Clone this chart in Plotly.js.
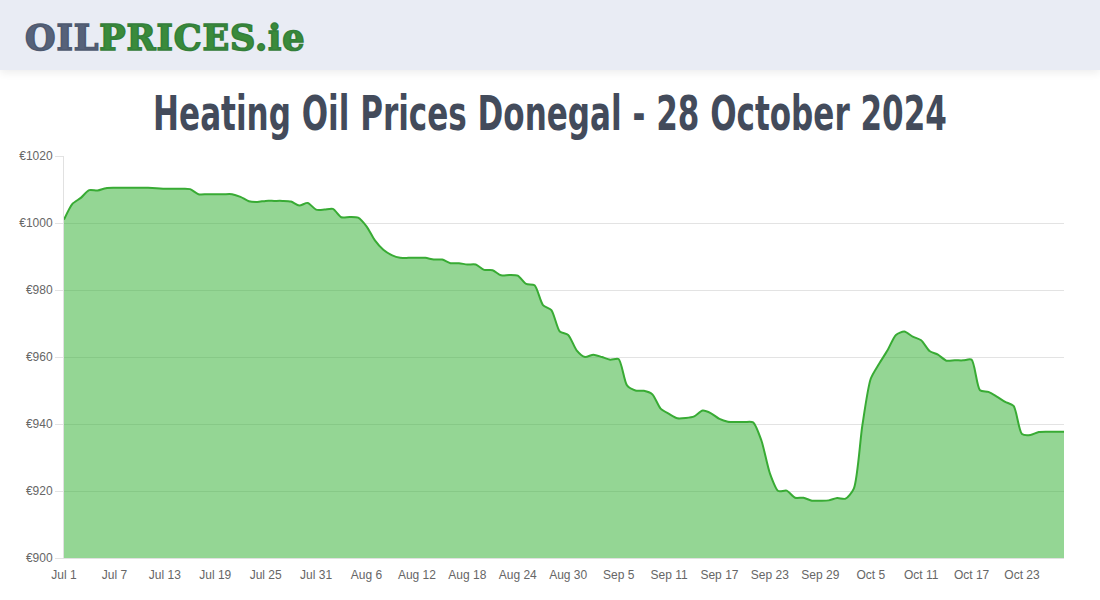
<!DOCTYPE html>
<html>
<head>
<meta charset="utf-8">
<script src="https://cdn.plot.ly/plotly-3.0.1.min.js"></script>
<style>
  html, body { margin: 0; padding: 0; background: #ffffff; }
  #wrap { position: relative; width: 1100px; height: 600px; overflow: hidden; }
  #header {
    position: absolute; left: 0; top: 0; width: 1100px; height: 70px;
    background: #e9ecf4; z-index: 5;
    box-shadow: 0 3px 8px rgba(0,0,0,0.07);
  }
  #logo {
    position: absolute; left: 25px; top: 16px;
    font-family: "DejaVu Serif", serif; font-weight: bold;
    font-size: 35px; letter-spacing: 0.9px; line-height: 44px;
  }
  #logo .a { color: #56627a; -webkit-text-stroke: 1.6px #4f5a70; }
  #logo .b { color: #3a8b3b; -webkit-text-stroke: 1.6px #34803a; }
  #chart { position: absolute; left: 0; top: 0; width: 1100px; height: 600px; }
</style>
</head>
<body>
<div id="wrap">
  <div id="chart"></div>
  <div id="header"><div id="logo"><span class="a">OIL</span><span class="b">PRICES.ie</span></div></div>
</div>
<script>
// ---- data ----
const chartTitle = "Heating Oil Prices Donegal - 28 October 2024";
const startDate = "2024-07-01";
const endDate = "2024-10-28";
const prices = [
  1001.0, 1005.7, 1007.5, 1009.8, 1009.7, 1010.4, 1010.5, 1010.5, 1010.5, 1010.5,
  1010.5, 1010.4, 1010.2, 1010.2, 1010.2, 1010.1, 1008.6, 1008.6, 1008.6, 1008.6,
  1008.6, 1007.8, 1006.5, 1006.3, 1006.6, 1006.6, 1006.6, 1006.4, 1005.2, 1006.0,
  1004.0, 1004.0, 1004.2, 1001.7, 1001.8, 1001.6, 999.0, 994.8, 992.0, 990.4,
  989.6, 989.6, 989.6, 989.6, 989.1, 989.1, 988.0, 988.0, 987.6, 987.6,
  986.0, 985.9, 984.4, 984.5, 984.3, 981.8, 981.4, 975.5, 974.0, 967.6,
  966.6, 962.0, 960.0, 960.7, 960.0, 959.2, 959.4, 951.5, 950.0, 949.9,
  948.9, 944.6, 943.0, 941.7, 941.8, 942.3, 944.0, 943.2, 941.5, 940.7,
  940.6, 940.6, 940.5, 935.0, 925.3, 920.0, 920.1, 918.0, 918.0, 917.1,
  917.1, 917.2, 917.9, 917.7, 920.8, 939.5, 953.5, 958.0, 962.0, 966.6,
  967.6, 966.1, 965.0, 961.8, 960.7, 958.9, 959.0, 959.0, 959.2, 950.1,
  949.6, 948.2, 946.6, 945.4, 937.0, 936.7, 937.6, 937.7, 937.7, 937.7
];
const tickDates = [
  "2024-07-01", "2024-07-07", "2024-07-13", "2024-07-19", "2024-07-25", "2024-07-31",
  "2024-08-06", "2024-08-12", "2024-08-18", "2024-08-24", "2024-08-30",
  "2024-09-05", "2024-09-11", "2024-09-17", "2024-09-23", "2024-09-29",
  "2024-10-05", "2024-10-11", "2024-10-17", "2024-10-23"
];
const tickLabels = [
  "Jul 1", "Jul 7", "Jul 13", "Jul 19", "Jul 25", "Jul 31",
  "Aug 6", "Aug 12", "Aug 18", "Aug 24", "Aug 30",
  "Sep 5", "Sep 11", "Sep 17", "Sep 23", "Sep 29",
  "Oct 5", "Oct 11", "Oct 17", "Oct 23"
];
const yRange = [900, 1020];
const yStep = 20;

// one date per price, one day apart, starting at startDate
const dates = prices.map((_, i) => {
  const d = new Date(startDate + "T00:00:00Z");
  d.setUTCDate(d.getUTCDate() + i);
  return d.toISOString().slice(0, 10);
});

const trace = {
  x: dates,
  y: prices,
  type: "scatter",
  mode: "lines",
  fill: "tozeroy",
  fillcolor: "rgba(60,180,60,0.55)",
  line: { color: "#38ab34", width: 2, shape: "spline", smoothing: 0.7 },
  hoverinfo: "skip"
};

const tickFont = { family: "Liberation Sans, Arial, sans-serif", size: 12, color: "#666666" };

const layout = {
  width: 1100,
  height: 600,
  margin: { l: 64, r: 36, t: 156, b: 42 },
  paper_bgcolor: "#ffffff",
  plot_bgcolor: "#ffffff",
  showlegend: false,
  title: {
    text: chartTitle,
    font: { family: "DejaVu Sans Condensed, sans-serif", size: 48, color: "#434b5b", weight: "bold" },
    x: 0.5, xanchor: "center",
    y: 1 - 113 / 600, yanchor: "middle", yref: "container"
  },
  xaxis: {
    type: "date",
    range: [startDate, endDate],
    tickmode: "array",
    tickvals: tickDates,
    ticktext: tickLabels,
    showgrid: false,
    zeroline: false,
    showline: true,
    linecolor: "#e1e1e1",
    linewidth: 1,
    ticks: "outside",
    ticklen: 6,
    tickcolor: "rgba(0,0,0,0)",
    tickfont: tickFont
  },
  yaxis: {
    range: yRange,
    dtick: yStep,
    tick0: yRange[0],
    tickprefix: "€",
    showgrid: true,
    gridcolor: "#e3e3e3",
    gridwidth: 1,
    zeroline: false,
    showline: true,
    linecolor: "#e1e1e1",
    linewidth: 1,
    ticks: "outside",
    ticklen: 8,
    tickcolor: "#e3e3e3",
    tickfont: tickFont
  }
};

Plotly.newPlot("chart", [trace], layout, { staticPlot: true, displayModeBar: false }).then(() => {
  // narrow the title horizontally (the original uses a condensed display face)
  const t = document.querySelector("#chart .gtitle");
  if (t) {
    const w = t.getBBox().width;
    const cx = 550;
    const s = Math.min(1, 794 / w);
    t.setAttribute("transform", "translate(" + cx + ",0) scale(" + s + ",1) translate(" + (-cx) + ",0)");
  }
});
</script>
</body>
</html>
